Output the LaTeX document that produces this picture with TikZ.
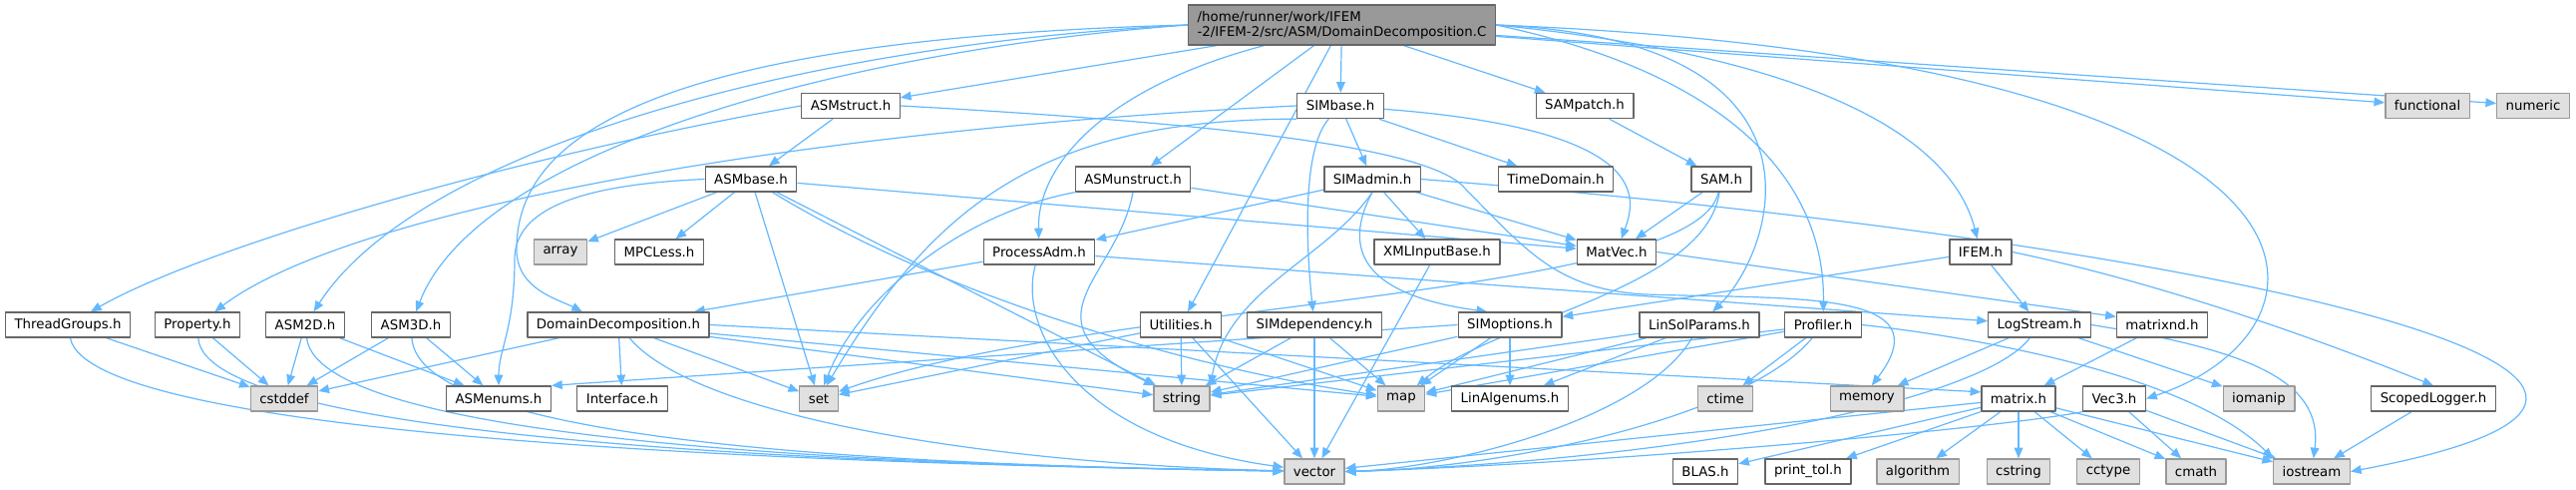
\documentclass[tikz,border=0pt]{standalone}
\usepackage{fontspec}
\setmainfont{DejaVu Sans}
\usetikzlibrary{arrows.meta,backgrounds}
\definecolor{edgeblue}{HTML}{63B8FF}
\definecolor{boxline}{HTML}{666666}
\definecolor{sysfill}{HTML}{E0E0E0}
\definecolor{sysline}{HTML}{999999}
\definecolor{rootfill}{HTML}{999999}
\begin{document}
\begin{tikzpicture}[x=0.75pt,y=-0.75pt,>={Triangle[length=8pt,width=6.5pt]},
    font=\fontsize{10}{11.25}\selectfont, line join=round,
    hdr/.style={draw=boxline,fill=white,line width=1pt,minimum height=18.75pt,inner xsep=6.75pt,inner ysep=0pt},
    sys/.style={hdr,draw=sysline,fill=sysfill},
    edge/.style={->,draw=edgeblue,line width=0.9pt}]
    \useasboundingbox (0,0) rectangle (2583,491);
    \def\ra{106} \def\rb{179.5} \def\rc{252.5} \def\rd{325.5} \def\re{399.5} \def\rf{472.5}
    % the file itself
    \node[hdr,fill=rootfill,align=left,minimum height=30pt] (root) at (1345.5,25) {/home/runner/work/IFEM\\-2/IFEM-2/src/ASM/DomainDecomposition.C};
    % project headers
    \foreach \n/\x/\y/\t in {asmstruct/853/\ra/ASMstruct.h, simbase/1344/\ra/SIMbase.h, sampatch/1589/\ra/SAMpatch.h,
        asmbase/753/\rb/ASMbase.h, asmunstruct/1136/\rb/ASMunstruct.h, simadmin/1376/\rb/SIMadmin.h,
        timedomain/1560/\rb/TimeDomain.h, sam/1726/\rb/SAM.h,
        mpcless/661/\rc/MPCLess.h, processadm/1042/\rc/ProcessAdm.h, xmlinput/1441/\rc/XMLInputBase.h,
        matvec/1621/\rc/MatVec.h, ifem/1986/\rc/IFEM.h,
        threadgroups/68/\rd/ThreadGroups.h, property/198/\rd/Property.h, asmtwo/306/\rd/ASM2D.h,
        asmthree/412/\rd/ASM3D.h, domdec/620/\rd/DomainDecomposition.h, utilities/1184/\rd/Utilities.h,
        simdep/1318/\rd/SIMdependency.h, simoptions/1514/\rd/SIMoptions.h, linsol/1704/\rd/LinSolParams.h,
        profiler/1828/\rd/Profiler.h, logstream/2045/\rd/LogStream.h, matrixnd/2168/\rd/matrixnd.h,
        asmenums/500/\re/ASMenums.h, interface/624/\re/Interface.h, linalgenums/1514/\re/LinAlgenums.h,
        matrix/2024/\re/matrix.h, vecthree/2120/\re/Vec3.h, scopedlogger/2440/\re/ScopedLogger.h,
        blas/1710/\rf/BLAS.h, printtol/1813/\rf/print\_tol.h}
    \node[hdr] (\n) at (\x,\y) {\t};
    % system headers
    \foreach \n/\x/\y in {functional/2434/\ra, numeric/2540/\ra, array/562/\rc,
        cstddef/285/\re, set/821/\re, string/1185/\re, map/1405/\re, ctime/1730/\re,
        memory/1872/\re, iomanip/2265/\re,
        vector/1318/\rf, algorithm/1923/\rf, cstring/2024/\rf, cctype/2114/\rf, cmath/2202/\rf, iostream/2318/\rf}
    \node[sys] (\n) at (\x,\y) {\n};
    \begin{scope}[on background layer]
    % includes
    \foreach \a/\b in {root/asmstruct, root/simbase, root/sampatch, root/functional, root/numeric,
        root/asmunstruct, root/utilities,
        asmstruct/asmbase, simbase/simadmin, simbase/timedomain, sampatch/sam, sam/matvec,
        asmbase/array, asmbase/mpcless, asmbase/matvec, asmbase/set, asmbase/string,
        asmunstruct/matvec, simadmin/processadm, simadmin/xmlinput, simadmin/matvec,
        processadm/domdec, processadm/logstream, xmlinput/vector,
        threadgroups/cstddef, property/cstddef, asmtwo/cstddef, asmtwo/asmenums,
        asmthree/cstddef, asmthree/asmenums,
        domdec/cstddef, domdec/interface, domdec/set, domdec/string, domdec/map,
        utilities/set, utilities/string, utilities/map, utilities/vector,
        simdep/string, simdep/map, simdep/vector,
        simoptions/map, simoptions/linalgenums, simoptions/string,
        linsol/map, linsol/linalgenums, linsol/string,
        profiler/map, profiler/string, profiler/ctime,
        logstream/memory, logstream/iomanip, ifem/logstream, ifem/simoptions, matrixnd/matrix,
        matrix/vector, matrix/blas, matrix/printtol, matrix/algorithm, matrix/cstring, matrix/cctype,
        matrix/cmath, matrix/iostream, vecthree/cmath, vecthree/iostream, scopedlogger/iostream}
    \draw[edge] (\a) -- (\b);
    \foreach \n/\x in {threadgroups/90, property/205, asmtwo/320, asmthree/420}
    \draw[edge] (\n) .. controls (\x,445) and (900,466) .. (vector);
    % the ones that go round
    \draw[edge] (root.west) .. controls (800,45) and (420,150) .. (asmtwo);
    \draw[edge] (root.west) .. controls (850,50) and (480,150) .. (asmthree);
    \draw[edge] (root.west) .. controls (620,40) and (518,150) .. (518,250) .. controls (518,290) and (560,300) .. (domdec.160);
    \draw[edge] (root) .. controls (1100,90) and (1040,170) .. (processadm);
    \draw[edge] (root.east) .. controls (1850,40) and (1780,250) .. (linsol);
    \draw[edge] (root.east) .. controls (1760,80) and (1830,200) .. (profiler);
    \draw[edge] (root.east) .. controls (1850,60) and (1960,150) .. (ifem);
    \draw[edge] (root.east) .. controls (2380,60) and (2360,330) .. (vecthree.east);
    \draw[edge] (asmstruct.west) .. controls (500,160) and (200,250) .. (threadgroups);
    \draw[edge] (asmstruct.east) .. controls (1250,125) and (1440,150) .. (1470,190) .. controls (1530,250) and (1560,290) .. (1650,295) .. controls (1800,300) and (1950,290) .. (memory.70);
    \draw[edge] (simbase.west) .. controls (800,130) and (350,210) .. (property);
    \draw[edge] (simbase) .. controls (1660,130) and (1640,200) .. (matvec);
    \draw[edge] (simbase.south west) .. controls (1050,120) and (940,200) .. (set);
    \draw[edge] (simbase) .. controls (1305,150) and (1310,250) .. (simdep);
    \draw[edge] (asmbase.west) .. controls (580,185) and (516,210) .. (516,260) .. controls (516,330) and (500,350) .. (asmenums);
    \draw[edge] (asmbase) .. controls (950,300) and (1200,370) .. (map);
    \draw[edge] (asmunstruct.south west) .. controls (960,215) and (860,300) .. (set);
    \draw[edge] (asmunstruct.south) .. controls (1120,280) and (1020,320) .. (string);
    \draw[edge] (simadmin.south) .. controls (1335,270) and (1400,300) .. (simoptions.150);
    \draw[edge] (simadmin.south) .. controls (1330,260) and (1230,290) .. (string.north east);
    \draw[edge] (simadmin.east) .. controls (2200,240) and (2850,380) .. (iostream.east);
    \draw[edge] (sam) .. controls (1710,290) and (1500,320) .. (map);
    \draw[edge] (sam) .. controls (1700,300) and (1100,300) .. (set);
    \draw[edge] (processadm) .. controls (1020,330) and (1080,440) .. (vector);
    \draw[edge] (domdec) .. controls (700,420) and (1000,465) .. (vector);
    \draw[edge] (domdec.east) -- (matrix.170);
    \draw[edge] (simoptions.west) -- (asmenums.north east);
    \draw[edge] (linsol) .. controls (1650,420) and (1450,470) .. (vector.east);
    \draw[edge] (profiler) .. controls (1750,420) and (1500,470) .. (vector.east);
    \draw[edge] (profiler.east) .. controls (2000,340) and (2200,380) .. (iostream.north west);
    \draw[edge] (logstream) .. controls (1990,400) and (1700,460) .. (vector.east);
    \draw[edge] (logstream.east) .. controls (2250,350) and (2330,380) .. (iostream);
    \draw[edge] (vecthree.south west) .. controls (2000,430) and (1600,465) .. (vector.east);
    \draw[edge] (matvec.east) -- (matrixnd.170);
    \draw[edge] (ifem.east) .. controls (2150,280) and (2300,330) .. (scopedlogger.north);
    \end{scope}
\end{tikzpicture}
\end{document}
